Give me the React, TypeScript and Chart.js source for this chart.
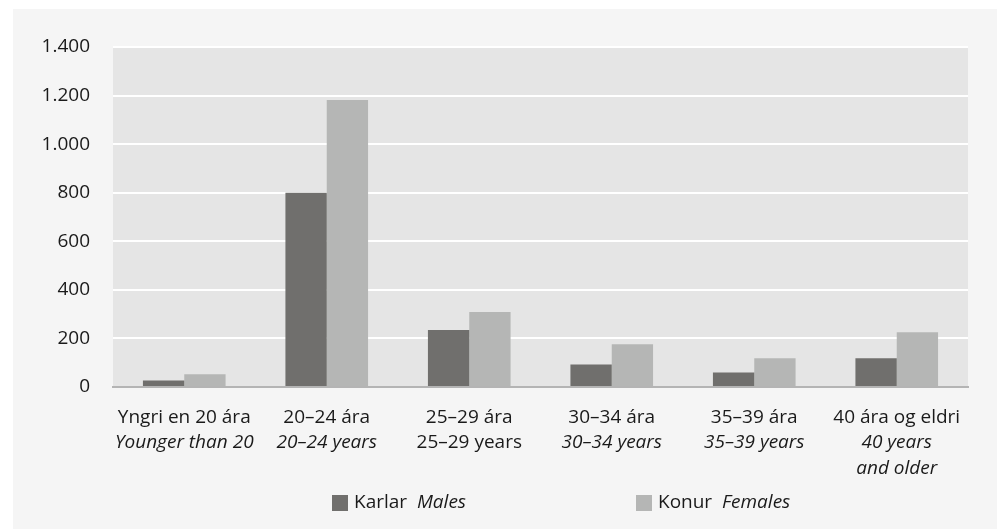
import React, { useEffect, useRef } from "react";
import { Chart, registerables } from "chart.js";

Chart.register(...registerables);

const categoriesIs = ["Yngri en 20 ára", "20–24 ára", "25–29 ára", "30–34 ára", "35–39 ára", "40 ára og eldri"];
const categoriesEn = [["Younger than 20"], ["20–24 years"], ["25–29 years"], ["30–34 years"], ["35–39 years"], ["40 years", "and older"]];
const categoriesEnItalic = [true, true, false, true, true, true];
const males = [27, 800, 235, 93, 60, 118];
const females = [52, 1182, 309, 176, 118, 225];
const yTicks = [0, 200, 400, 600, 800, 1000, 1200, 1400];
const seriesIs = ["Karlar", "Konur"];
const seriesEn = ["Males", "Females"];
const colors = ["#706f6d", "#b5b6b5"];

const FONT = '"Open Sans", sans-serif';
const TEXT = "#1a1a1a";
const SIZE = 19;

const fmt = (v: number) => v.toLocaleString("de-DE");

export default function App() {
  const ref = useRef<HTMLCanvasElement>(null);
  useEffect(() => {
    const bgPlugin = {
      id: "bg",
      beforeDraw(chart: any) {
        const { ctx, chartArea: a } = chart;
        ctx.save();
        ctx.fillStyle = "#e5e5e5";
        ctx.fillRect(a.left, a.top, a.right - a.left, a.bottom - a.top);
        ctx.restore();
      },
      afterDraw(chart: any) {
        const { ctx, chartArea: a } = chart;
        const xs = chart.scales.x;
        ctx.save();
        ctx.fillStyle = TEXT;
        ctx.textAlign = "center";
        ctx.textBaseline = "middle";
        categoriesIs.forEach((c, i) => {
          const x = xs.getPixelForValue(i);
          ctx.font = `${SIZE}px ${FONT}`;
          ctx.fillText(c, x, a.bottom + 31);
          ctx.font = `${categoriesEnItalic[i] ? "italic " : ""}${SIZE}px ${FONT}`;
          categoriesEn[i].forEach((l, j) => {
            ctx.fillText(l, x, a.bottom + 56 + j * 26);
          });
        });
        // legend
        const starts = [a.left + 219, a.left + 523];
        const ly = a.bottom + 116;
        ctx.textAlign = "left";
        seriesIs.forEach((s, i) => {
          const x0 = starts[i];
          ctx.fillStyle = colors[i];
          ctx.fillRect(x0, ly - 8, 16, 16);
          ctx.fillStyle = TEXT;
          ctx.font = `${SIZE}px ${FONT}`;
          ctx.fillText(s, x0 + 22, ly);
          const w = ctx.measureText(s + "  ").width;
          ctx.font = `italic ${SIZE}px ${FONT}`;
          ctx.fillText(seriesEn[i], x0 + 22 + w, ly);
        });
        ctx.restore();
      },
    };
    const chart = new Chart(ref.current!, {
      type: "bar",
      data: {
        labels: categoriesIs,
        datasets: [
          { label: seriesIs[0], data: males, backgroundColor: colors[0] },
          { label: seriesIs[1], data: females, backgroundColor: colors[1] },
        ],
      },
      options: {
        animation: false,
        responsive: false,
        layout: { padding: { left: 0, top: 38, right: 29, bottom: 141 } },
        plugins: { legend: { display: false }, tooltip: { enabled: false } },
        datasets: { bar: { categoryPercentage: 0.58, barPercentage: 1 } },
        scales: {
          x: {
            ticks: { display: false },
            grid: { display: false, drawTicks: false },
            border: { display: true, color: "#b4b4b4", width: 2 },
            afterFit: (s: any) => { s.height = 0; },
          },
          y: {
            min: 0,
            max: 1400,
            afterBuildTicks: (s: any) => { s.ticks = yTicks.map((v) => ({ value: v })); },
            ticks: {
              padding: 23,
              color: TEXT,
              font: { family: FONT, size: SIZE },
              callback: (v: any) => fmt(Number(v)),
            },
            grid: {
              drawTicks: false,
              color: (c: any) => (c.tick && c.tick.value === 0 ? "rgba(0,0,0,0)" : "#ffffff"),
              lineWidth: 2,
            },
            border: { display: false },
            afterFit: (s: any) => { s.width = 100; },
          },
        },
      },
      plugins: [bgPlugin],
    });
    return () => chart.destroy();
  }, []);
  return (
    <div style={{ position: "absolute", left: 0, top: 0, width: 997, height: 529, background: "#ffffff", overflow: "hidden" }}>
      <div style={{ position: "absolute", left: 13, top: 9, width: 984, height: 520, background: "#f5f5f5" }}>
        <canvas ref={ref} width={984} height={519} style={{ display: "block" }} />
      </div>
    </div>
  );
}
